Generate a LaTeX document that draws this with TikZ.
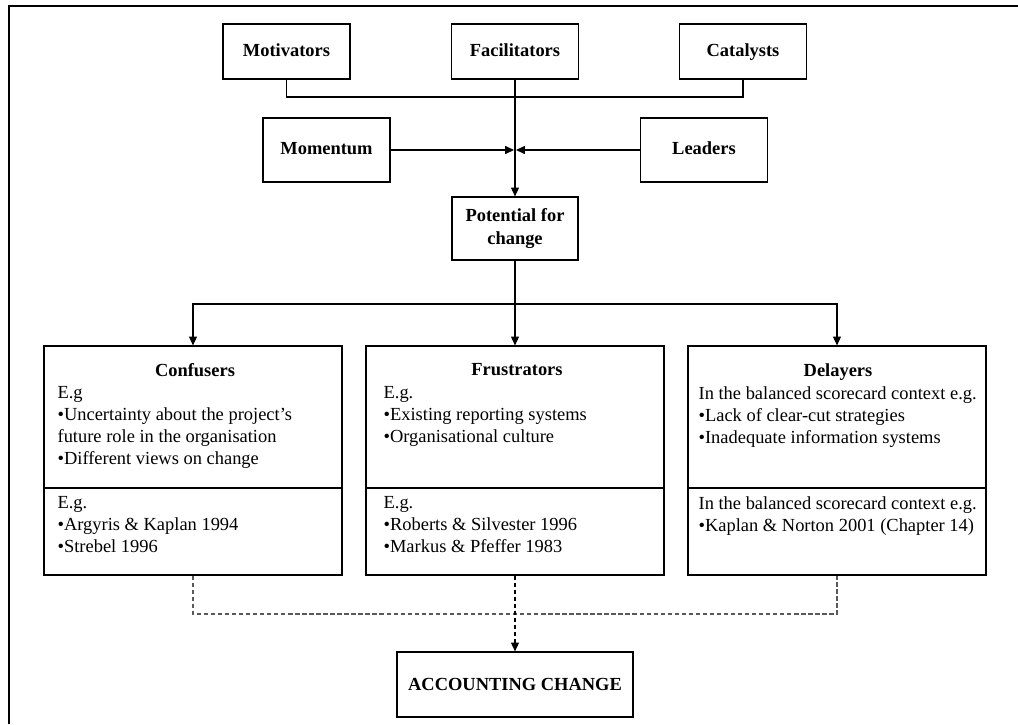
\documentclass[tikz,border=0pt]{standalone}
\usepackage{fontspec}
\setmainfont{Liberation Serif}
\usetikzlibrary{positioning,arrows.meta}

\begin{document}
\begin{tikzpicture}[x=0.02cm, y=-0.02cm, line width=0.7pt,
  box/.style={draw, line width=0.7pt, align=center, inner sep=2pt,
    font=\fontsize{10.5}{12.8}\selectfont\bfseries},
  smallbox/.style={box, minimum width=2.54cm, minimum height=1.1cm, text height=1.6ex, text depth=0.4ex},
  midbox/.style={box, minimum width=2.54cm, minimum height=1.28cm, text height=1.6ex, text depth=0.4ex},
  bigbox/.style={draw, line width=0.7pt, minimum width=5.96cm, minimum height=4.58cm},
  title/.style={anchor=north, inner sep=0pt, font=\fontsize{10.5}{12.5}\selectfont\bfseries},
  body/.style={anchor=north west, align=left, inner sep=0pt,
    font=\fontsize{10.5}{12.5}\selectfont},
  arr/.style={-{Triangle[length=5pt,width=4.5pt]}},
  dotline/.style={draw=black!65, dash pattern=on 2.5pt off 1.5pt}]

\useasboundingbox (0,0) rectangle (1018,724);
% Frame
\draw[line width=1.1pt] (9,724) -- (9,6) -- (1018,6);

% Drivers of change
\node[smallbox] (mot) at (286.5,51.5) {Motivators};
\node[smallbox] (fac) at (515,51.5) {Facilitators};
\node[smallbox] (cat) at (743,51.5) {Catalysts};
\node[midbox] (mom) at (326.5,150) {Momentum};
\node[midbox] (lead) at (704,150) {Leaders};
\node[box, minimum width=2.52cm, minimum height=1.26cm] (pot) at (515,228.5) {Potential for\\change};

\coordinate (top) at (515,97);
\coordinate (inl) at (514,150);
\coordinate (inr) at (516,150);
\coordinate (split) at (515,304);
\coordinate (merge) at (515,614);
\coordinate (cut) at (0,488);

\draw (mot.south) |- (top) -| (cat.south);
\draw[arr] (fac.south) -- (pot.north);
\draw[arr] (mom.east) -- (inl);
\draw[arr] (lead.west) -- (inr);

% Barriers
\node[bigbox] (conf) at (193,460.5) {};
\node[bigbox] (fru) at (515,460.5) {};
\node[bigbox] (del) at (837,460.5) {};
\foreach \b in {conf,fru,del}
  \draw (\b.west |- cut) -- (\b.east |- cut);

\node[title] (conf-t) at (195,363) {Confusers};
\node[body] (conf-a) at (57,386) {E.g\\\textbullet Uncertainty about the project's\\future role in the organisation\\\textbullet Different views on change};
\node[body] (conf-b) at (57,496) {E.g.\\\textbullet Argyris \& Kaplan 1994\\\textbullet Strebel 1996};

\node[title] (fru-t) at (517,363) {Frustrators};
\node[body] (fru-a) at (383,386) {E.g.\\\textbullet Existing reporting systems\\\textbullet Organisational culture};
\node[body] (fru-b) at (383,496) {E.g.\\\textbullet Roberts \& Silvester 1996\\\textbullet Markus \& Pfeffer 1983};

\node[title] (del-t) at (838,363) {Delayers};
\node[body] (del-a) at (698,386) {In the balanced scorecard context e.g.\\\textbullet Lack of clear-cut strategies\\\textbullet Inadequate information systems};
\node[body] (del-b) at (698,496) {In the balanced scorecard context e.g.\\\textbullet Kaplan \& Norton 2001 (Chapter 14)};

\draw (pot.south) -- (split);
\draw[arr] (split) -| (conf.north);
\draw[arr] (split) -- (fru.north);
\draw[arr] (split) -| (del.north);

% Outcome
\node[box, minimum width=4.72cm, minimum height=1.3cm] (acc) at (515,684.5) {ACCOUNTING CHANGE};
\draw[dotline] (conf.south) |- (merge) -| (del.south);
\draw[dotline, draw=black, arr] (fru.south) -- (acc.north);

\end{tikzpicture}
\end{document}
